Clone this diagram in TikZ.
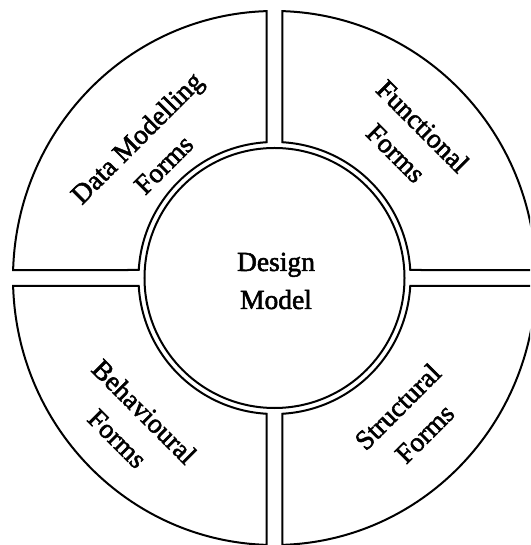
\documentclass[tikz,border=0pt]{standalone}
\usepackage{fontspec}
\setmainfont{Liberation Serif}
\newfontfamily\lblfont[FakeBold=2]{Liberation Serif}
\begin{document}
\begin{tikzpicture}[x=1pt,y=1pt,
  ring/.style={draw=black, line width=2pt, line join=miter},
  lbl/.style={font={\lblfont\fontsize{27.5}{38}\selectfont}, align=center, inner sep=0pt}]
% outer ellipse radii, inner arc radius, inner circle radius, half channel width
\def\Rx{261.5}\def\Ry{267}\def\Ri{136}\def\Rc{130}\def\h{8}
\pgfmathsetmacro{\ov}{acos(\h/\Rx)}
\pgfmathsetmacro{\oh}{asin(\h/\Ry)}
\pgfmathsetmacro{\iv}{acos(\h/\Ri)}
\pgfmathsetmacro{\ih}{asin(\h/\Ri)}
\useasboundingbox (-274.5,-267) rectangle (255.5,278);
\clip (-274.5,-267) rectangle (255.5,278);
% four segments of the outer ring
\draw[ring] (\iv:\Ri) -- (\ov:\Rx pt and \Ry pt)
  arc[start angle=\ov, end angle=\oh, x radius=\Rx, y radius=\Ry]
  -- (\ih:\Ri) arc[start angle=\ih, end angle=\iv, radius=\Ri] -- cycle;
\draw[ring] (180-\iv:\Ri) -- (180-\ov:\Rx pt and \Ry pt)
  arc[start angle=180-\ov, end angle=180-\oh, x radius=\Rx, y radius=\Ry]
  -- (180-\ih:\Ri) arc[start angle=180-\ih, end angle=180-\iv, radius=\Ri] -- cycle;
\draw[ring] (180+\iv:\Ri) -- (180+\ov:\Rx pt and \Ry pt)
  arc[start angle=180+\ov, end angle=180+\oh, x radius=\Rx, y radius=\Ry]
  -- (180+\ih:\Ri) arc[start angle=180+\ih, end angle=180+\iv, radius=\Ri] -- cycle;
\draw[ring] (360-\iv:\Ri) -- (360-\ov:\Rx pt and \Ry pt)
  arc[start angle=360-\ov, end angle=360-\oh, x radius=\Rx, y radius=\Ry]
  -- (360-\ih:\Ri) arc[start angle=360-\ih, end angle=360-\iv, radius=\Ri] -- cycle;
% central circle
\draw[ring] (0,0) circle[radius=\Rc];
\node[lbl] (design) at (1.5,-3) {Design\\Model};
\node[lbl, rotate=45] (data) at (-124.5,127) {Data Modelling\\Forms};
\node[lbl, rotate=-45] (func) at (135,138.5) {Functional\\Forms};
\node[lbl, rotate=-45] (behav) at (-143.5,-147) {Behavioural\\Forms};
\node[lbl, rotate=45] (struct) at (136.5,-142) {Structural\\Forms};
\end{tikzpicture}
\end{document}
